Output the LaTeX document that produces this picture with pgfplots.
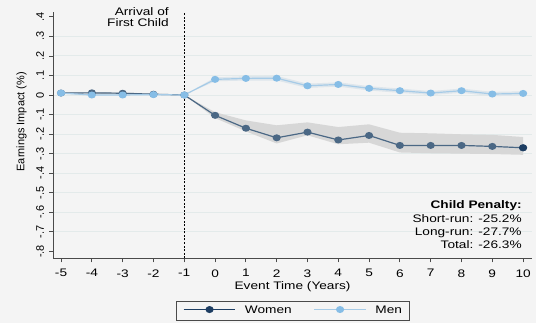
\documentclass[border=0pt]{standalone}
\usepackage{pgfplots}
\pgfplotsset{compat=1.18}
\usepackage{pgfplotstable}
\usepgfplotslibrary{fillbetween}
\usepackage{fontspec}
\setmainfont{Liberation Sans}[FakeStretch=1.25]
\newfontfamily\rotfont{Liberation Sans}
\definecolor{bg}{HTML}{F4F4F4}
\definecolor{gridc}{HTML}{E3EAEA}
\definecolor{axc}{HTML}{4A4A4A}
\definecolor{wline}{HTML}{4B6885}
\definecolor{wnavy}{HTML}{1D3D62}
\definecolor{mmark}{HTML}{86BDE6}
\definecolor{mline}{HTML}{A6CBE7}
\definecolor{wband}{HTML}{D7D7D7}
\definecolor{mband}{HTML}{DEE6EC}

\pgfplotstableread{
x   w      wlo     whi     m      mlo     mhi
-5  0.010  0.006   0.014   0.010  0.006   0.014
-4  0.011  0.007   0.015   0.000  -0.004  0.004
-3  0.009  0.005   0.013   0.000  -0.004  0.004
-2  0.004  0.001   0.007   0.002  -0.002  0.006
-1  0.000  0.000   0.000   0.000  0.000   0.000
0   -0.104 -0.118  -0.088  0.080  0.070   0.090
1   -0.170 -0.186  -0.130  0.085  0.074   0.096
2   -0.219 -0.248  -0.155  0.086  0.074   0.098
3   -0.190 -0.206  -0.140  0.047  0.036   0.058
4   -0.230 -0.252  -0.164  0.054  0.043   0.065
5   -0.207 -0.244  -0.150  0.034  0.023   0.045
6   -0.258 -0.294  -0.193  0.022  0.011   0.033
7   -0.258 -0.298  -0.196  0.010  0.000   0.020
8   -0.258 -0.300  -0.201  0.022  0.011   0.033
9   -0.263 -0.302  -0.204  0.005  -0.006  0.016
10  -0.270 -0.306  -0.215  0.008  -0.003  0.019
}\datatable

\begin{document}
\pagecolor{bg}
\begin{tikzpicture}[font=\fontsize{11bp}{12bp}\selectfont]
\path (0,0) rectangle (536bp,325bp);
\begin{axis}[
  at={(50bp,65bp)}, anchor=south west,
  scale only axis, width=482bp, height=248bp,
  xmin=-5.258, xmax=10.29, ymin=-0.8356, ymax=0.425,
  axis lines*=left,
  axis line style={axc, line width=0.8bp},
  tick style={axc, line width=0.8bp},
  tick align=outside, major tick length=4bp,
  xtick={-5,-4,-3,-2,-1,0,1,2,3,4,5,6,7,8,9,10},
  xticklabels={-5,-4,-3,-2,-1,0,1,2,3,4,5,6,7,8,9,10},
  ytick={-0.8,-0.7,-0.6,-0.5,-0.4,-0.3,-0.2,-0.1,0,0.1,0.2,0.3,0.4},
  yticklabels={-.8,-.7,-.6,-.5,-.4,-.3,-.2,-.1,0,.1,.2,.3,.4},
  yticklabel style={rotate=90, anchor=south, inner sep=0pt, font=\rotfont\fontsize{11bp}{12bp}\selectfont},
  xticklabel style={anchor=north, inner sep=0pt},
  xticklabel shift=7bp, yticklabel shift=5bp,
  extra y ticks={-0.7,-0.6,-0.5,-0.4,-0.3,-0.2,-0.1,0,0.1,0.2,0.3},
  extra y tick labels={},
  extra y tick style={ymajorgrids=true, major tick length=0pt,
    major grid style={gridc, line width=0.9bp}},
  xlabel={Event Time (Years)},
  ylabel={Earnings Impact (\%)},
  xlabel style={at={(axis description cs:0.5,0)}, anchor=center, yshift=-29bp, inner sep=0pt},
  ylabel style={at={(axis description cs:-0.066,0.554)}, anchor=center, rotate=0, inner sep=0pt, font=\rotfont\fontsize{11bp}{12bp}\selectfont},
  clip=false,
  legend columns=2,
  legend image code/.code={\draw[mark repeat=2,mark phase=2,#1] plot coordinates {(0bp,3.8bp) (26bp,3.8bp) (52bp,3.8bp)};},
  legend style={at={(axis description cs:0.5,0)}, anchor=center, yshift=-52.5bp,
    draw=axc, line width=0.8bp, fill=bg, inner xsep=7bp, inner ysep=4.5bp,
    nodes={inner sep=0pt, anchor=base west, text height=7.9bp, text depth=2.2bp},
    /tikz/every odd column/.style={column sep=9bp},
    /tikz/every even column/.style={column sep=22bp},
    /tikz/column 4/.style={column sep=0bp}},
]
% CI bands
\addplot[draw=none, name path=wu, forget plot] table[x=x, y=whi] {\datatable};
\addplot[draw=none, name path=wl, forget plot] table[x=x, y=wlo] {\datatable};
\addplot[wband, forget plot] fill between[of=wu and wl];
\addplot[draw=none, name path=mu, forget plot] table[x=x, y=mhi] {\datatable};
\addplot[draw=none, name path=ml, forget plot] table[x=x, y=mlo] {\datatable};
\addplot[mband, forget plot] fill between[of=mu and ml];
% reference line
\draw[black, line width=0.9bp, dash pattern=on 2bp off 1.6bp] (axis cs:-1,-0.8356) -- (axis cs:-1,0.425);
% women
\addplot[wline, line width=1.2bp, mark=*, mark size=2.9bp, mark options={fill=wline, draw=wline, xscale=1.2}, forget plot] table[x=x, y=w] {\datatable};
\addplot[wnavy, line width=1.2bp, mark=*, mark size=2.9bp, mark options={fill=wnavy, draw=wnavy, xscale=1.2}] coordinates {(10,-0.270)};
\addlegendentry{Women}
% men
\addplot[mline, line width=1.2bp, mark=*, mark size=2.9bp, mark options={fill=mmark, draw=mmark, xscale=1.2}] table[x=x, y=m] {\datatable};
\addlegendentry{Men}
% annotations
\node[anchor=base east, inner sep=0pt] at (axis cs:-1.50,0.405) {Arrival of};
\node[anchor=base east, inner sep=0pt] at (axis cs:-1.50,0.349) {First Child};
\node[anchor=base east, inner sep=0pt, font=\fontsize{11bp}{12bp}\selectfont\bfseries] at (axis cs:9.96,-0.583) {Child Penalty:};
\node[anchor=base east, inner sep=0pt] at (axis cs:9.96,-0.651) {Short-run: -25.2\%};
\node[anchor=base east, inner sep=0pt] at (axis cs:9.96,-0.718) {Long-run: -27.7\%};
\node[anchor=base east, inner sep=0pt] at (axis cs:9.96,-0.786) {Total: -26.3\%};
\end{axis}
\end{tikzpicture}
\end{document}
